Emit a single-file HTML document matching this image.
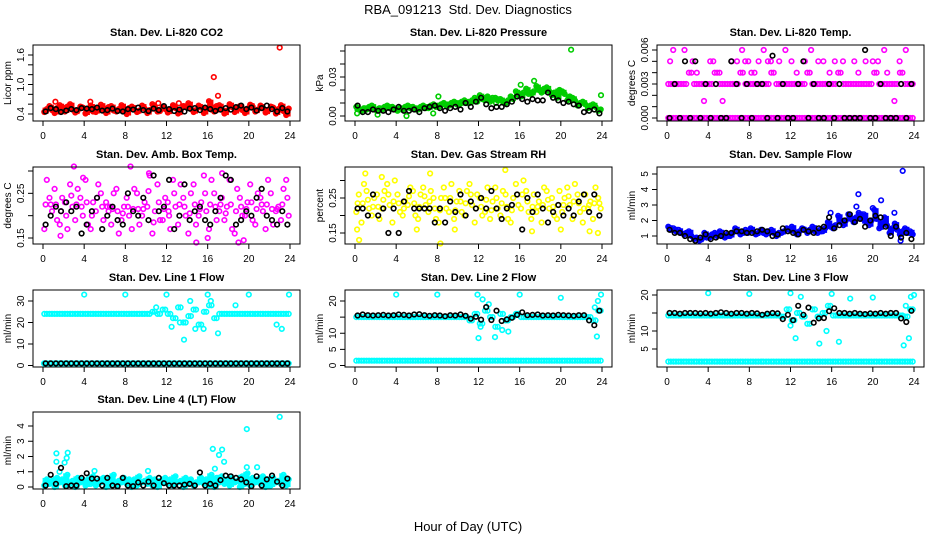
<!DOCTYPE html>
<html><head><meta charset="utf-8"><style>
html,body{margin:0;padding:0;background:#fff;}
svg{display:block;font-family:"Liberation Sans",sans-serif;}
</style></head><body>
<svg id="c" width="936" height="540" viewBox="0 0 936 540">
<rect width="936" height="540" fill="#fff"/>
<text x="468" y="14" text-anchor="middle" font-size="13">RBA_091213&#160; Std. Dev. Diagnostics</text>
<text x="468" y="531" text-anchor="middle" font-size="13">Hour of Day (UTC)</text>
</svg>
<script>
const H=[0.25,0.75,1.25,1.75,2.25,2.75,3.25,3.75,4.25,4.75,5.25,5.75,6.25,6.75,7.25,7.75,8.25,8.75,9.25,9.75,10.25,10.75,11.25,11.75,12.25,12.75,13.25,13.75,14.25,14.75,15.25,15.75,16.25,16.75,17.25,17.75,18.25,18.75,19.25,19.75,20.25,20.75,21.25,21.75,22.25,22.75,23.25,23.75];
const xTicks=[0,4,8,12,16,20,24];

const co2A=[0.50,0.48,0.52,0.46,0.55,0.49,0.47,0.53,0.50,0.45,0.52,0.48,0.54,0.47,0.50,0.46,0.52,0.49,0.47,0.51,0.48,0.53,0.46,0.50,0.49,0.52,0.47,0.55,0.50,0.48,0.53,0.51,0.49,0.56,0.50,0.47,0.54,0.52,0.48,0.51,0.55,0.49,0.52,0.47,0.53,0.50,0.46,0.51];
const co2B=[0.44,0.56,0.42,0.58,0.45,0.60,0.43,0.55,0.41,0.57,0.44,0.59,0.42,0.56,0.45,0.58,0.40,0.55,0.44,0.57,0.42,0.60,0.45,0.54,0.43,0.58,0.41,0.56,0.62,0.44,0.57,0.42,0.66,0.45,0.58,0.41,0.60,0.44,0.56,0.42,0.59,0.45,0.57,0.43,0.55,0.41,0.58,0.38];
const co2OutT=[1.2,4.6,11.2,13.2,16.6,17.0,23.0];
const co2OutV=[0.65,0.65,0.62,0.62,1.15,0.77,1.75];
const co2K=[0.45,0.52,0.50,0.44,0.47,0.50,0.48,0.52,0.51,0.50,0.53,0.47,0.48,0.51,0.46,0.45,0.50,0.49,0.53,0.48,0.46,0.51,0.48,0.56,0.50,0.46,0.49,0.45,0.51,0.52,0.48,0.53,0.50,0.46,0.49,0.52,0.49,0.54,0.57,0.50,0.53,0.47,0.52,0.57,0.50,0.45,0.52,0.45];

const prA=[0.005,0.006,0.007,0.005,0.006,0.007,0.006,0.005,0.006,0.007,0.006,0.005,0.007,0.006,0.008,0.007,0.009,0.008,0.010,0.009,0.011,0.010,0.012,0.011,0.013,0.015,0.014,0.012,0.011,0.012,0.013,0.016,0.018,0.017,0.019,0.020,0.021,0.019,0.018,0.020,0.017,0.015,0.012,0.010,0.009,0.008,0.007,0.005];
const prB=[0.007,0.004,0.005,0.008,0.004,0.005,0.008,0.007,0.004,0.005,0.008,0.007,0.005,0.008,0.006,0.009,0.007,0.010,0.008,0.011,0.009,0.012,0.010,0.014,0.016,0.012,0.011,0.014,0.013,0.010,0.015,0.019,0.015,0.021,0.017,0.023,0.018,0.022,0.016,0.014,0.019,0.012,0.014,0.008,0.011,0.006,0.009,0.004];
const prOutT=[0.2,2.2,5.0,7.6,8.1,13.7,16.1,17.4,21.0,23.9];
const prOutV=[0.002,0.001,0.000,0.002,0.015,0.010,0.024,0.027,0.051,0.016];
const prK=[0.008,0.003,0.003,0.005,0.004,0.004,0.003,0.005,0.007,0.004,0.004,0.005,0.003,0.006,0.007,0.008,0.006,0.004,0.006,0.007,0.005,0.010,0.007,0.011,0.014,0.009,0.006,0.007,0.007,0.009,0.011,0.015,0.013,0.011,0.013,0.012,0.012,0.018,0.014,0.012,0.010,0.011,0.009,0.008,0.003,0.004,0.005,0.002];

const tpA=[0.003,0.003,0.003,0.003,0.004,0.003,0.003,0.003,0.003,0.004,0.003,0.003,0.003,0.003,0.004,0.003,0.003,0.003,0.003,0.003,0.004,0.003,0.003,0.003,0.003,0.003,0.003,0.004,0.003,0.003,0.003,0.003,0.003,0.004,0.003,0.003,0.003,0.003,0.003,0.003,0.004,0.003,0.003,0.003,0.003,0.004,0.003,0.003];
const tpB=[0,0,0,0,0,0,0,0,0,0,0,0,0,0,0,0,0,0,0,0,0,0,0,0,0,0,0,0,0,0,0,0,0,0,0,0,0,0,0,0,0,0,0,0,0,0,0,0];
const tpOutT=[0.3,0.6,1.7,2.5,2.9,3.6,4.2,4.5,5.1,5.4,6.3,6.8,7.3,7.6,7.9,8.2,8.5,8.9,9.4,9.8,10.1,10.9,11.5,12.1,12.6,13.4,14.0,14.7,15.2,15.8,16.3,17.1,18.2,18.6,19.3,20.0,20.5,21.1,21.4,22.1,22.6,23.2];
const tpOutV=[0.005,0.006,0.006,0.005,0.004,0.0015,0.005,0.005,0.004,0.0015,0.005,0.005,0.006,0.005,0.005,0.004,0.004,0.005,0.006,0.005,0.005,0.005,0.006,0.005,0.004,0.005,0.006,0.005,0.005,0.004,0.005,0.005,0.005,0.004,0.005,0.005,0.005,0.006,0.004,0.0015,0.005,0.006];
const tpK=[0,0.003,0,0.005,0,0.005,0,0.003,0,0.003,0,0,0.005,0.003,0,0.003,0,0.003,0.003,0,0.0055,0,0.003,0,0,0.003,0.005,0,0.003,0,0,0.003,0,0.003,0,0,0,0,0.006,0,0,0.003,0,0,0,0.003,0,0.003];

const amA=[0.28,0.21,0.19,0.24,0.17,0.22,0.26,0.20,0.18,0.23,0.27,0.19,0.21,0.25,0.16,0.22,0.20,0.26,0.18,0.23,0.29,0.21,0.19,0.24,0.17,0.22,0.27,0.20,0.25,0.18,0.23,0.21,0.28,0.19,0.24,0.22,0.17,0.26,0.20,0.23,0.19,0.25,0.21,0.28,0.18,0.22,0.26,0.20];
const amB=[0.17,0.24,0.26,0.18,0.23,0.27,0.19,0.24,0.28,0.17,0.21,0.25,0.23,0.18,0.26,0.19,0.24,0.17,0.25,0.20,0.22,0.16,0.27,0.19,0.23,0.28,0.18,0.24,0.16,0.27,0.20,0.29,0.17,0.25,0.21,0.19,0.28,0.16,0.24,0.20,0.27,0.18,0.24,0.17,0.25,0.21,0.19,0.28];
const amOutT=[1.7,3.0,8.5,10.3,14.9,16.0,19.0,19.5,17.4,3.9,6.5,12.2];
const amOutV=[0.155,0.31,0.31,0.295,0.14,0.15,0.14,0.145,0.295,0.285,0.22,0.21];
const amK=[0.18,0.20,0.22,0.21,0.23,0.21,0.22,0.16,0.18,0.21,0.24,0.17,0.20,0.22,0.19,0.18,0.25,0.21,0.20,0.24,0.19,0.29,0.21,0.22,0.28,0.17,0.20,0.27,0.19,0.21,0.22,0.19,0.18,0.21,0.24,0.29,0.28,0.18,0.19,0.21,0.20,0.24,0.26,0.20,0.19,0.18,0.21,0.18];

const rhA=[0.26,0.29,0.22,0.25,0.19,0.27,0.23,0.30,0.21,0.24,0.28,0.20,0.26,0.23,0.27,0.19,0.25,0.22,0.29,0.24,0.21,0.27,0.23,0.26,0.20,0.28,0.24,0.22,0.27,0.19,0.25,0.23,0.30,0.21,0.26,0.24,0.28,0.22,0.20,0.27,0.25,0.23,0.29,0.21,0.26,0.24,0.28,0.22];
const rhB=[0.21,0.18,0.27,0.20,0.26,0.22,0.29,0.18,0.26,0.20,0.23,0.27,0.19,0.28,0.21,0.25,0.18,0.28,0.21,0.19,0.27,0.20,0.29,0.18,0.25,0.21,0.19,0.28,0.20,0.26,0.18,0.29,0.22,0.27,0.19,0.21,0.18,0.27,0.25,0.19,0.21,0.28,0.19,0.26,0.18,0.22,0.19,0.25];
const rhOutT=[0.2,0.4,1.0,2.6,6.0,7.3,8.3,9.7,14.6,17.2,20.0,22.8,23.6];
const rhOutV=[0.16,0.13,0.32,0.31,0.16,0.32,0.12,0.16,0.33,0.155,0.16,0.155,0.15];
const rhK=[0.22,0.22,0.20,0.26,0.20,0.22,0.15,0.22,0.15,0.24,0.27,0.22,0.22,0.22,0.22,0.18,0.22,0.18,0.24,0.21,0.26,0.20,0.24,0.22,0.25,0.22,0.27,0.22,0.19,0.22,0.23,0.26,0.16,0.25,0.21,0.26,0.22,0.18,0.21,0.23,0.20,0.22,0.20,0.24,0.26,0.21,0.26,0.20];

const sfA=[1.4,1.3,1.2,1.2,1.0,0.9,0.8,0.9,1.1,1.0,1.0,1.1,1.2,1.3,1.3,1.2,1.3,1.2,1.2,1.3,1.2,1.2,1.3,1.4,1.3,1.3,1.4,1.4,1.3,1.4,1.5,1.6,1.7,1.9,2.0,2.1,2.2,2.1,1.9,2.0,2.1,1.9,1.7,1.5,1.4,1.3,1.2,1.1];
const sfB=[1.6,1.5,1.4,1.1,1.3,0.8,0.7,1.2,0.9,1.2,1.3,0.9,1.0,1.5,1.1,1.4,1.5,1.1,1.4,1.1,1.4,1.0,1.2,1.5,1.6,1.1,1.5,1.2,1.6,1.2,1.3,1.9,1.5,2.3,1.7,2.4,1.9,2.5,2.4,1.7,2.7,1.5,2.2,1.2,1.8,1.1,1.5,1.3];
const sfOutT=[18.6,18.4,20.0,20.8,22.1,22.9,22.7,15.9];
const sfOutV=[3.7,2.9,2.8,3.3,2.5,5.2,0.7,2.5];
const sfK=[1.4,1.2,1.2,1.0,0.8,0.7,0.9,1.1,0.8,0.9,1.0,1.2,1.2,1.3,1.3,1.2,1.2,1.3,1.4,1.3,1.0,1.1,1.5,1.3,1.2,1.1,1.4,1.3,1.2,1.5,1.6,2.2,1.5,1.7,2.0,2.4,1.9,2.1,1.6,2.0,2.3,2.2,1.6,1.0,1.6,0.9,1.2,0.8];

const l1A=[24,24,24,24,24,24,24,24,24,24,24,24,24,24,24,24,24,24,24,24,24,25,24,26,24,22,27,20,23,26,19,25,28,22,24,24,24,24,24,24,24,24,24,24,24,24,24,24];
const l1B=[1,1,1,1,1,1,1,1,1,1,1,1,1,1,1,1,1,1,1,1,1,1,1,1,1,1,1,1,1,1,1,1,1,1,1,1,1,1,1,1,1,1,1,1,1,1,1,1];
const l1OutT=[4.0,8.0,12.0,16.0,20.0,23.9,13.7,14.3,14.8,15.6,17.0,12.5,18.7,23.2,22.7,13.3,16.3,11.0,0.1];
const l1OutV=[33,33,33,33,33,33,12,30,17,17,15,18,28,17,19,20,30,27,1];
const l1K=[1,1,1,1,1,1,1,1,1,1,1,1,1,1,1,1,1,1,1,1,1,1,1,1,1,1,1,1,1,1,1,1,1,1,1,1,1,1,1,1,1,1,1,1,1,1,1,1];

const l2A=[15,15,15,15,15,15,15,15,15,15,15,15,15,15,15,15,15,15,15,15,15,15,14,16,13,17,15,12,16,14,15,16,15,15,15,15,15,15,15,15,15,15,15,15,15,15,14,17];
const l2B=[1.5,1.5,1.5,1.5,1.5,1.5,1.5,1.5,1.5,1.5,1.5,1.5,1.5,1.5,1.5,1.5,1.5,1.5,1.5,1.5,1.5,1.5,1.5,1.5,1.5,1.5,1.5,1.5,1.5,1.5,1.5,1.5,1.5,1.5,1.5,1.5,1.5,1.5,1.5,1.5,1.5,1.5,1.5,1.5,1.5,1.5,1.5,1.5];
const l2OutT=[4.0,8.0,11.9,16.0,20.0,23.9,12.0,13.6,14.9,12.4,13.0,23.6,23.5,14.3,12.2,23.3];
const l2OutV=[22,22,22,22,21,22,8.5,8.8,10.5,20.5,19,20,9,11,12,18];
const l2K=[15.5,15.8,15.6,15.5,15.6,15.7,15.5,15.6,15.8,15.7,15.5,15.8,15.9,15.6,15.4,15.6,15.5,15.3,15.6,15.5,15.8,15.4,14.5,15.1,14.2,18.1,14.1,17.0,13.8,14.3,14.8,15.7,16.5,15.6,15.7,15.8,15.5,15.6,15.5,15.7,15.6,15.5,15.4,15.6,15.6,14.0,12.5,17.0];

const l3A=[14.3,14.3,14.3,14.3,14.3,14.3,14.3,14.3,14.3,14.3,14.3,14.3,14.3,14.3,14.3,14.3,14.3,14.3,14.3,14.3,14.3,14.3,14,16,13,15,14,12,16,14,15,17,14.3,14.3,14.3,14.3,14.3,14.3,14.3,14.3,14.3,14.3,14.3,14.3,14.3,14.3,14,16];
const l3B=[1.5,1.5,1.5,1.5,1.5,1.5,1.5,1.5,1.5,1.5,1.5,1.5,1.5,1.5,1.5,1.5,1.5,1.5,1.5,1.5,1.5,1.5,1.5,1.5,1.5,1.5,1.5,1.5,1.5,1.5,1.5,1.5,1.5,1.5,1.5,1.5,1.5,1.5,1.5,1.5,1.5,1.5,1.5,1.5,1.5,1.5,1.5,1.5];
const l3OutT=[4.0,8.0,12.0,16.0,20.0,24.0,12.5,14.8,15.5,13.0,16.7,23.0,23.5,23.7,12.0,17.8,23.2];
const l3OutV=[20.5,20.3,20.5,20.3,19.3,20,8,6.5,10,19.5,7,6,8,19.5,11.5,19,17];
const l3K=[15.0,15.0,14.8,15.0,15.0,15.0,14.9,15.0,14.8,15.0,15.2,15.0,14.8,15.0,15.0,14.8,15.0,14.9,14.5,14.8,15.0,14.9,13.3,14.5,13.0,17.0,14.5,16.5,12.3,13.5,13.6,15.5,16.3,15.0,15.0,14.8,15.0,14.8,14.7,14.9,14.8,15.0,14.8,15.0,15.0,13.5,12.5,15.6];

const l4A=[0.5,0.4,0.6,0.5,0.8,0.4,0.6,0.5,0.5,0.7,0.4,0.6,0.5,0.8,0.4,0.6,0.5,0.5,0.7,0.4,0.6,0.5,0.4,0.6,0.5,0.7,0.4,0.6,0.5,0.3,0.6,0.5,0.8,0.6,0.7,0.5,0.6,0.4,0.7,0.9,0.6,0.5,0.7,0.5,0.6,0.4,0.8,0.5];
const l4B=[0.1,0.2,0.0,0.3,0.1,0.2,0.0,0.3,0.1,0.2,0.1,0.3,0.0,0.2,0.1,0.3,0.2,0.0,0.1,0.3,0.2,0.1,0.0,0.3,0.2,0.1,0.3,0.0,0.2,0.1,0.3,0.2,0.1,0.0,0.3,0.2,0.1,0.3,0.0,0.2,0.1,0.3,0.2,0.0,0.1,0.3,0.2,0.1];
const l4OutT=[1.3,1.3,2.1,2.3,2.4,1.6,16.5,16.7,17.1,17.4,17.6,19.8,19.8,20.8,23.0,5.0,10.2];
const l4OutV=[2.2,1.65,1.6,1.9,2.25,1.0,2.5,1.2,2.1,2.45,1.65,3.8,1.3,1.3,4.6,1.05,1.05];
const l4K=[0.1,0.8,0.2,1.25,0.05,0.1,0.1,0.6,0.9,0.55,0.55,0.1,0.6,0.1,0.05,0.6,0.1,0.05,0.3,0.1,0.35,0.1,0.6,0.25,0.1,0.1,0.1,0.15,0.2,0.1,0.95,0.1,0.2,0.1,0.45,0.75,0.7,0.6,0.5,0.3,0.05,0.7,0.1,0.5,0.75,0.35,0.1,0.55];

const panels=[
 {name:"co2",title:"Stan. Dev. Li-820 CO2",ylab:"Licor ppm",col:0,row:0,color:"#ff0000",fill:true,mid:true,A:co2A,B:co2B,OT:co2OutT,OV:co2OutV,K:co2K,ref:[0.4,114,1.6,55],ticks:[0.4,0.6,0.8,1.0,1.2,1.4,1.6],labels:["0.4","","","1.0","","","1.6"]},
 {name:"pressure",title:"Stan. Dev. Li-820 Pressure",ylab:"kPa",col:1,row:0,color:"#00cd00",fill:true,mid:true,A:prA,B:prB,OT:prOutT,OV:prOutV,K:prK,ref:[0,116,0.05,51],ticks:[0,0.01,0.02,0.03,0.04,0.05],labels:["0.00","","","0.03","",""]},
 {name:"licor-temp",title:"Stan. Dev. Li-820 Temp.",ylab:"degrees C",col:2,row:0,color:"#ff00ff",fill:false,mid:false,A:tpA,B:tpB,OT:tpOutT,OV:tpOutV,K:tpK,ref:[0,118,0.006,50],ticks:[0,0.001,0.002,0.003,0.004,0.005,0.006],labels:["0.000","","","0.003","","","0.006"]},
 {name:"amb-box-temp",title:"Stan. Dev. Amb. Box Temp.",ylab:"degrees C",col:0,row:1,color:"#ff00ff",fill:false,mid:true,A:amA,B:amB,OT:amOutT,OV:amOutV,K:amK,ref:[0.15,238,0.30,171],ticks:[0.15,0.20,0.25,0.30],labels:["0.15","","0.25",""]},
 {name:"gas-stream-rh",title:"Stan. Dev. Gas Stream RH",ylab:"percent",col:1,row:1,color:"#ffff00",fill:false,mid:true,A:rhA,B:rhB,OT:rhOutT,OV:rhOutV,K:rhK,ref:[0.15,233,0.25,198],ticks:[0.15,0.20,0.25,0.30],labels:["0.15","","0.25",""]},
 {name:"sample-flow",title:"Stan. Dev. Sample Flow",ylab:"ml/min",col:2,row:1,color:"#0000ff",fill:true,mid:true,A:sfA,B:sfB,OT:sfOutT,OV:sfOutV,K:sfK,ref:[1,236,5,174],ticks:[1,2,3,4,5],labels:["1","2","3","4","5"]},
 {name:"line1-flow",title:"Stan. Dev. Line 1 Flow",ylab:"ml/min",col:0,row:2,color:"#00ffff",fill:false,mid:false,A:l1A,B:l1B,OT:l1OutT,OV:l1OutV,K:l1K,ref:[0,365.5,30,301],ticks:[0,10,20,30],labels:["0","10","20","30"]},
 {name:"line2-flow",title:"Stan. Dev. Line 2 Flow",ylab:"ml/min",col:1,row:2,color:"#00ffff",fill:false,mid:false,A:l2A,B:l2B,OT:l2OutT,OV:l2OutV,K:l2K,ref:[0,365.5,20,301],ticks:[0,5,10,15,20],labels:["0","5","10","","20"]},
 {name:"line3-flow",title:"Stan. Dev. Line 3 Flow",ylab:"ml/min",col:2,row:2,color:"#00ffff",fill:false,mid:false,A:l3A,B:l3B,OT:l3OutT,OV:l3OutV,K:l3K,ref:[5,349,20,295],ticks:[5,10,15,20],labels:["5","10","","20"]},
 {name:"line4-flow",title:"Stan. Dev. Line 4 (LT) Flow",ylab:"ml/min",col:0,row:3,color:"#00ffff",fill:true,mid:true,A:l4A,B:l4B,OT:l4OutT,OV:l4OutV,K:l4K,ref:[0,487,4,426],ticks:[0,1,2,3,4],labels:["0","1","2","3","4"]}
];
const rowTop=[45,167,290,412], rowBot=[121,244,367,489];
const NS="http://www.w3.org/2000/svg";
const svg=document.getElementById('c');
function mk(tag,attrs,parent){const e=document.createElementNS(NS,tag);for(const k in attrs)e.setAttribute(k,attrs[k]);parent.appendChild(e);return e;}
panels.forEach(p=>{
 const ox=312*p.col, L=33+ox, R=300+ox, T=rowTop[p.row], B=rowBot[p.row];
 const g=mk('g',{},svg);
 
 
 const xs=h=>43+ox+(h/24)*247;
 const ys=v=>p.ref[1]+(v-p.ref[0])*(p.ref[3]-p.ref[1])/(p.ref[2]-p.ref[0]);
 const t=mk('text',{x:(L+R)/2,y:T-9,'text-anchor':'middle','font-size':'11','font-weight':'bold'},g);
 t.textContent=p.title;
 
 
 const pts=mk('g',{fill:'none','stroke-width':'1.6'},g);
 
 
 if(p.fill){
  H.forEach((h,i)=>{const a=ys(p.A[i]),b=ys(p.B[i]);const lo=Math.min(a,b)-1.5,hi=Math.max(a,b)+1.5;
   const s=mk('rect',{x:(xs(h)-3).toFixed(1),y:lo.toFixed(1),width:6.2,height:(hi-lo).toFixed(1),fill:p.color,stroke:'none'},pts);
   
   });
 }
 const dot=(h,v,col)=>{const c=mk('circle',{cx:xs(h).toFixed(1),cy:ys(v).toFixed(1),r:2.3,stroke:col},pts);
  
  };
 H.forEach((h,i)=>dot(h-0.12,p.B[i],p.color));
 H.forEach((h,i)=>dot(h+0.12,p.A[i],p.color));
 if(p.mid) H.forEach((h,i)=>dot(h,(p.A[i]+p.B[i])/2,p.color));
 else { H.forEach((h,i)=>dot(h+0.12,p.B[i],p.color)); H.forEach((h,i)=>dot(h-0.12,p.A[i],p.color)); }
 p.OT.forEach((h,i)=>dot(h,p.OV[i],p.color));
 H.forEach((h,i)=>dot(h,p.K[i],'#000'));
 const box=mk('rect',{x:L,y:T,width:R-L,height:B-T,fill:'none',stroke:'#000','stroke-width':'1'},g);
 
 
 const xa=mk('g',{},g);
 
 
 mk('line',{x1:xs(0),x2:xs(24),y1:B,y2:B,stroke:'#000'},xa);
 xTicks.forEach(h=>{mk('line',{x1:xs(h),x2:xs(h),y1:B,y2:B+5,stroke:'#000'},xa);
  const lt=mk('text',{x:xs(h),y:B+18,'text-anchor':'middle','font-size':'10'},xa);lt.textContent=h;});
 const ya=mk('g',{},g);
 
 
 mk('line',{x1:L,x2:L,y1:ys(p.ticks[0]),y2:ys(p.ticks[p.ticks.length-1]),stroke:'#000'},ya);
 p.ticks.forEach((v,i)=>{const y=ys(v);mk('line',{x1:L-5,x2:L,y1:y,y2:y,stroke:'#000'},ya);
  if(p.labels[i]){const lt=mk('text',{x:L-9,y:y,'text-anchor':'middle','font-size':'10',transform:`rotate(-90 ${L-9} ${y})`},ya);lt.textContent=p.labels[i];}});
 const yl=mk('text',{x:L-22,y:(T+B)/2,'text-anchor':'middle','font-size':'10',transform:`rotate(-90 ${L-22} ${(T+B)/2})`},g);
 yl.textContent=p.ylab;
 
 
});
</script>
</body></html>
